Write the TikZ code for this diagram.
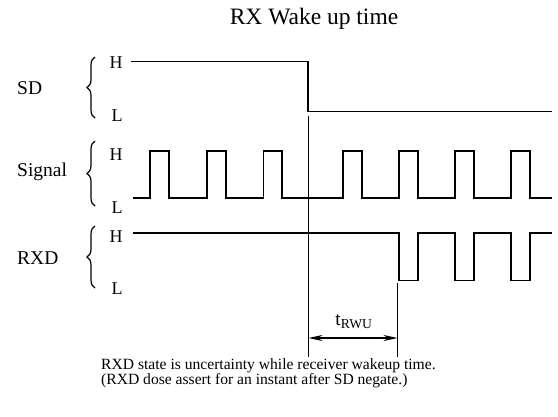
\documentclass[tikz,border=0pt]{standalone}
\usepackage{fontspec}
\setmainfont{Liberation Serif}
\usetikzlibrary{decorations.pathreplacing,arrows.meta}
\begin{document}
\begin{tikzpicture}[x=1pt,y=-1pt,
  wave/.style={line width=1.6pt,line join=miter},
  marker/.style={line width=0.8pt},
  sig/.style={font=\fontsize{19.5}{21}\selectfont,inner sep=0pt},
  lvl/.style={font=\fontsize{18}{20}\selectfont,inner sep=0pt},
  br/.style={decorate,decoration={brace,amplitude=8pt,aspect=0.5},line width=1.2pt},
  note/.style={font=\fontsize{15.6}{14.5}\selectfont,inner sep=0pt,align=left}]
\useasboundingbox (0,0) rectangle (558,416);
% title
\node[font=\fontsize{23.5}{25}\selectfont,inner sep=0pt] (title) at (314,19) {RX Wake up time};
% signal names
\node[sig,anchor=west] (sd) at (17,88) {SD};
\node[sig,anchor=west] (signal) at (17,172) {Signal};
\node[sig,anchor=west] (rxd) at (17,258) {RXD};
% braces
\draw[br] (95,118) -- (95,57);
\draw[br] (95,206) -- (95,141);
\draw[br] (95,288) -- (95,226);
% H/L labels
\node[lvl] (sdh) at (116,63) {H};
\node[lvl] (sdl) at (117,116) {L};
\node[lvl] (sgh) at (116,155) {H};
\node[lvl] (sgl) at (117,208) {L};
\node[lvl] (rxh) at (116,237) {H};
\node[lvl] (rxl) at (117,289) {L};
% SD waveform
\coordinate (sdstart) at (131,61.5);
\coordinate (sdfall) at (307.7,61.5);
\coordinate (sdend) at (552,111.5);
\draw[wave] (sdstart) -- (sdfall) |- (sdend);
% Signal waveform
\draw[wave] (133,198) -- (150,198) -- (150,151) -- (169,151) -- (169,198)
  -- (206.7,198) -- (206.7,151) -- (225.7,151) -- (225.7,198)
  -- (263.3,198) -- (263.3,151) -- (281.7,151) -- (281.7,198)
  -- (342.7,198) -- (342.7,151) -- (361.7,151) -- (361.7,198)
  -- (399,198) -- (399,151) -- (417.7,151) -- (417.7,198)
  -- (455,198) -- (455,151) -- (474,151) -- (474,198)
  -- (511,198) -- (511,151) -- (530,151) -- (530,198) -- (552,198);
\draw[line width=2.6pt] (326.5,198) -- (331.5,198);
% RXD waveform
\draw[wave] (133,233) -- (399,233) -- (399,280.5) -- (417.7,280.5) -- (417.7,233)
  -- (455,233) -- (455,280.5) -- (474,280.5) -- (474,233)
  -- (511,233) -- (511,280.5) -- (530,280.5) -- (530,233) -- (552,233);
% timing markers
\coordinate (m1top) at (308.5,116);
\coordinate (m1bot) at (308.5,357);
\coordinate (m2top) at (397.5,283);
\coordinate (m2bot) at (397.5,357);
\draw[marker] (m1top) -- (m1bot);
\draw[marker] (m2top) -- (m2bot);
\coordinate (a1) at (308.5,338);
\coordinate (a2) at (397.5,338);
\draw[line width=1.2pt,arrows={Stealth[length=14pt,width=6pt]-Stealth[length=14pt,width=6pt]}] (a1) -- (a2);
\node[sig] (trwu) at (354,322) {t\textsubscript{RWU}};
% note
\node[note,anchor=base west] (note) at (101,384) {RXD state is uncertainty while receiver wakeup time.\\(RXD dose assert for an instant after SD negate.)};
\end{tikzpicture}
\end{document}
